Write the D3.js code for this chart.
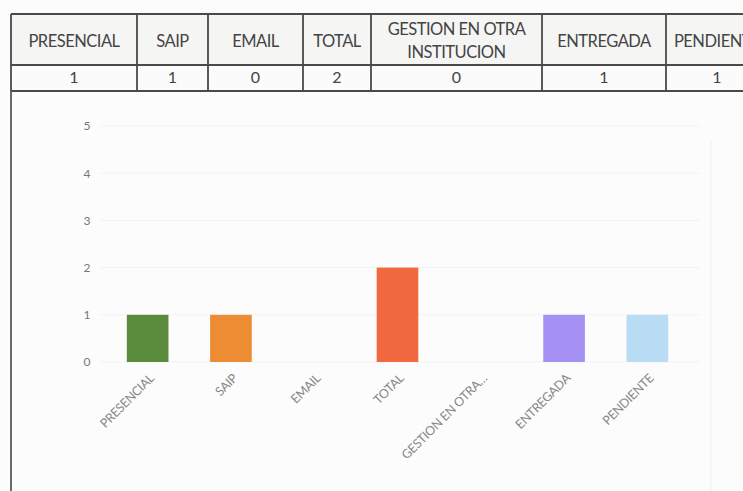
<!DOCTYPE html>
<html>
<head>
<meta charset="utf-8">
<script src="https://cdn.jsdelivr.net/npm/d3@7/dist/d3.min.js"></script>
<style>
  html, body { margin: 0; padding: 0; background: #fcfcfc; }
  svg { display: block; }
</style>
</head>
<body>
<svg id="chart" width="743" height="491"></svg>
<script>
// ---- data ----
const categories = ["PRESENCIAL", "SAIP", "EMAIL", "TOTAL", "GESTION EN OTRA INSTITUCION", "ENTREGADA", "PENDIENTE"];
const axisLabels = ["PRESENCIAL", "SAIP", "EMAIL", "TOTAL", "GESTION EN OTRA…", "ENTREGADA", "PENDIENTE"];
const headerLines = [["PRESENCIAL"], ["SAIP"], ["EMAIL"], ["TOTAL"], ["GESTION EN OTRA", "INSTITUCION"], ["ENTREGADA"], ["PENDIENTE"]];
const values = [1, 1, 0, 2, 0, 1, 1];
const barColors = ["#5b8b3d", "#ee8c34", "#f0693f", "#f0693f", "#f0693f", "#a590f4", "#b7dcf4"];
const yTicks = [0, 1, 2, 3, 4, 5];
// table column boundaries (layout)
const colEdges = [11, 137, 208, 303, 371, 542, 666, 768];

const svg = d3.select("#chart");
const font = "Lato, 'Open Sans', sans-serif";

// ---- table ----
const tTop = 14, tMid = 65, tBot = 91;
const table = svg.append("g");
table.append("rect").attr("x", colEdges[0]).attr("y", tTop)
  .attr("width", 743 - colEdges[0] + 5).attr("height", tMid - tTop).attr("fill", "#f5f5f4");
table.append("rect").attr("x", colEdges[0]).attr("y", tMid)
  .attr("width", 743 - colEdges[0] + 5).attr("height", tBot - tMid).attr("fill", "#fbfbfb");
const lineColor = "#4a4a4a";
[tTop, tMid, tBot].forEach(y => {
  table.append("line").attr("x1", colEdges[0]).attr("x2", 743).attr("y1", y).attr("y2", y)
    .attr("stroke", lineColor).attr("stroke-width", 1.8);
});
colEdges.slice(0, 7).forEach(x => {
  table.append("line").attr("x1", x).attr("x2", x).attr("y1", tTop).attr("y2", tBot)
    .attr("stroke", lineColor).attr("stroke-width", 1.8);
});
categories.forEach((c, i) => {
  const cx = (colEdges[i] + colEdges[i + 1]) / 2;
  const lines = headerLines[i];
  const lh = 23;
  const startY = (tTop + tMid) / 2 + 3 - (lines.length - 1) * lh / 2;
  lines.forEach((ln, j) => {
    table.append("text").attr("x", cx).attr("y", startY + j * lh)
      .attr("text-anchor", "middle").attr("dominant-baseline", "middle")
      .attr("font-family", font).attr("font-size", 16.5).attr("fill", "#444")
      .attr("letter-spacing", "-0.5")
      .text(ln);
  });
  table.append("text").attr("x", cx).attr("y", (tMid + tBot) / 2 + 1)
    .attr("text-anchor", "middle").attr("dominant-baseline", "middle")
    .attr("font-family", font).attr("font-size", 16).attr("fill", "#444")
    .text(values[i]);
});

// left outer border continuing down
svg.append("line").attr("x1", colEdges[0]).attr("x2", colEdges[0]).attr("y1", tBot).attr("y2", 491)
  .attr("stroke", "#5a5a5a").attr("stroke-width", 1.8);
// faint right border of chart area
svg.append("line").attr("x1", 711).attr("x2", 711).attr("y1", 140).attr("y2", 491)
  .attr("stroke", "#efefef").attr("stroke-width", 1);

// ---- chart ----
const x = d3.scaleBand().domain(categories).range([106, 689]).paddingInner(0.5).paddingOuter(0.25);
const y = d3.scaleLinear().domain([0, 5]).range([362, 126]);

// faint gridlines
svg.append("g").selectAll("line").data(yTicks).join("line")
  .attr("x1", 100).attr("x2", 700)
  .attr("y1", d => y(d)).attr("y2", d => y(d))
  .attr("stroke", "#f3f3f3").attr("stroke-width", 1);

// y axis
const yAxis = svg.append("g").attr("transform", "translate(90,0)")
  .call(d3.axisLeft(y).tickValues(yTicks).tickSize(0).tickPadding(0).tickFormat(d3.format("d")));
yAxis.select(".domain").remove();
yAxis.selectAll("text").attr("font-family", font).attr("font-size", 12).attr("fill", "#777")
  .attr("text-anchor", "middle").attr("dx", "-3");

// bars
svg.append("g").selectAll("rect").data(categories).join("rect")
  .attr("x", d => x(d))
  .attr("width", x.bandwidth())
  .attr("y", (d, i) => y(values[i]))
  .attr("height", (d, i) => y(0) - y(values[i]))
  .attr("fill", (d, i) => barColors[i]);

// x axis labels (rotated)
const xAxis = svg.append("g").attr("transform", `translate(0,${y(0)})`)
  .call(d3.axisBottom(x).tickSize(0).tickFormat((d, i) => axisLabels[i]));
xAxis.select(".domain").remove();
xAxis.selectAll("text")
  .attr("font-family", font).attr("font-size", 12.5).attr("fill", "#888")
  .attr("letter-spacing", "-0.3")
  .attr("text-anchor", "end")
  .attr("transform", "translate(4,14) rotate(-45)")
  .attr("dy", "0.35em").attr("y", 0);
</script>
</body>
</html>
